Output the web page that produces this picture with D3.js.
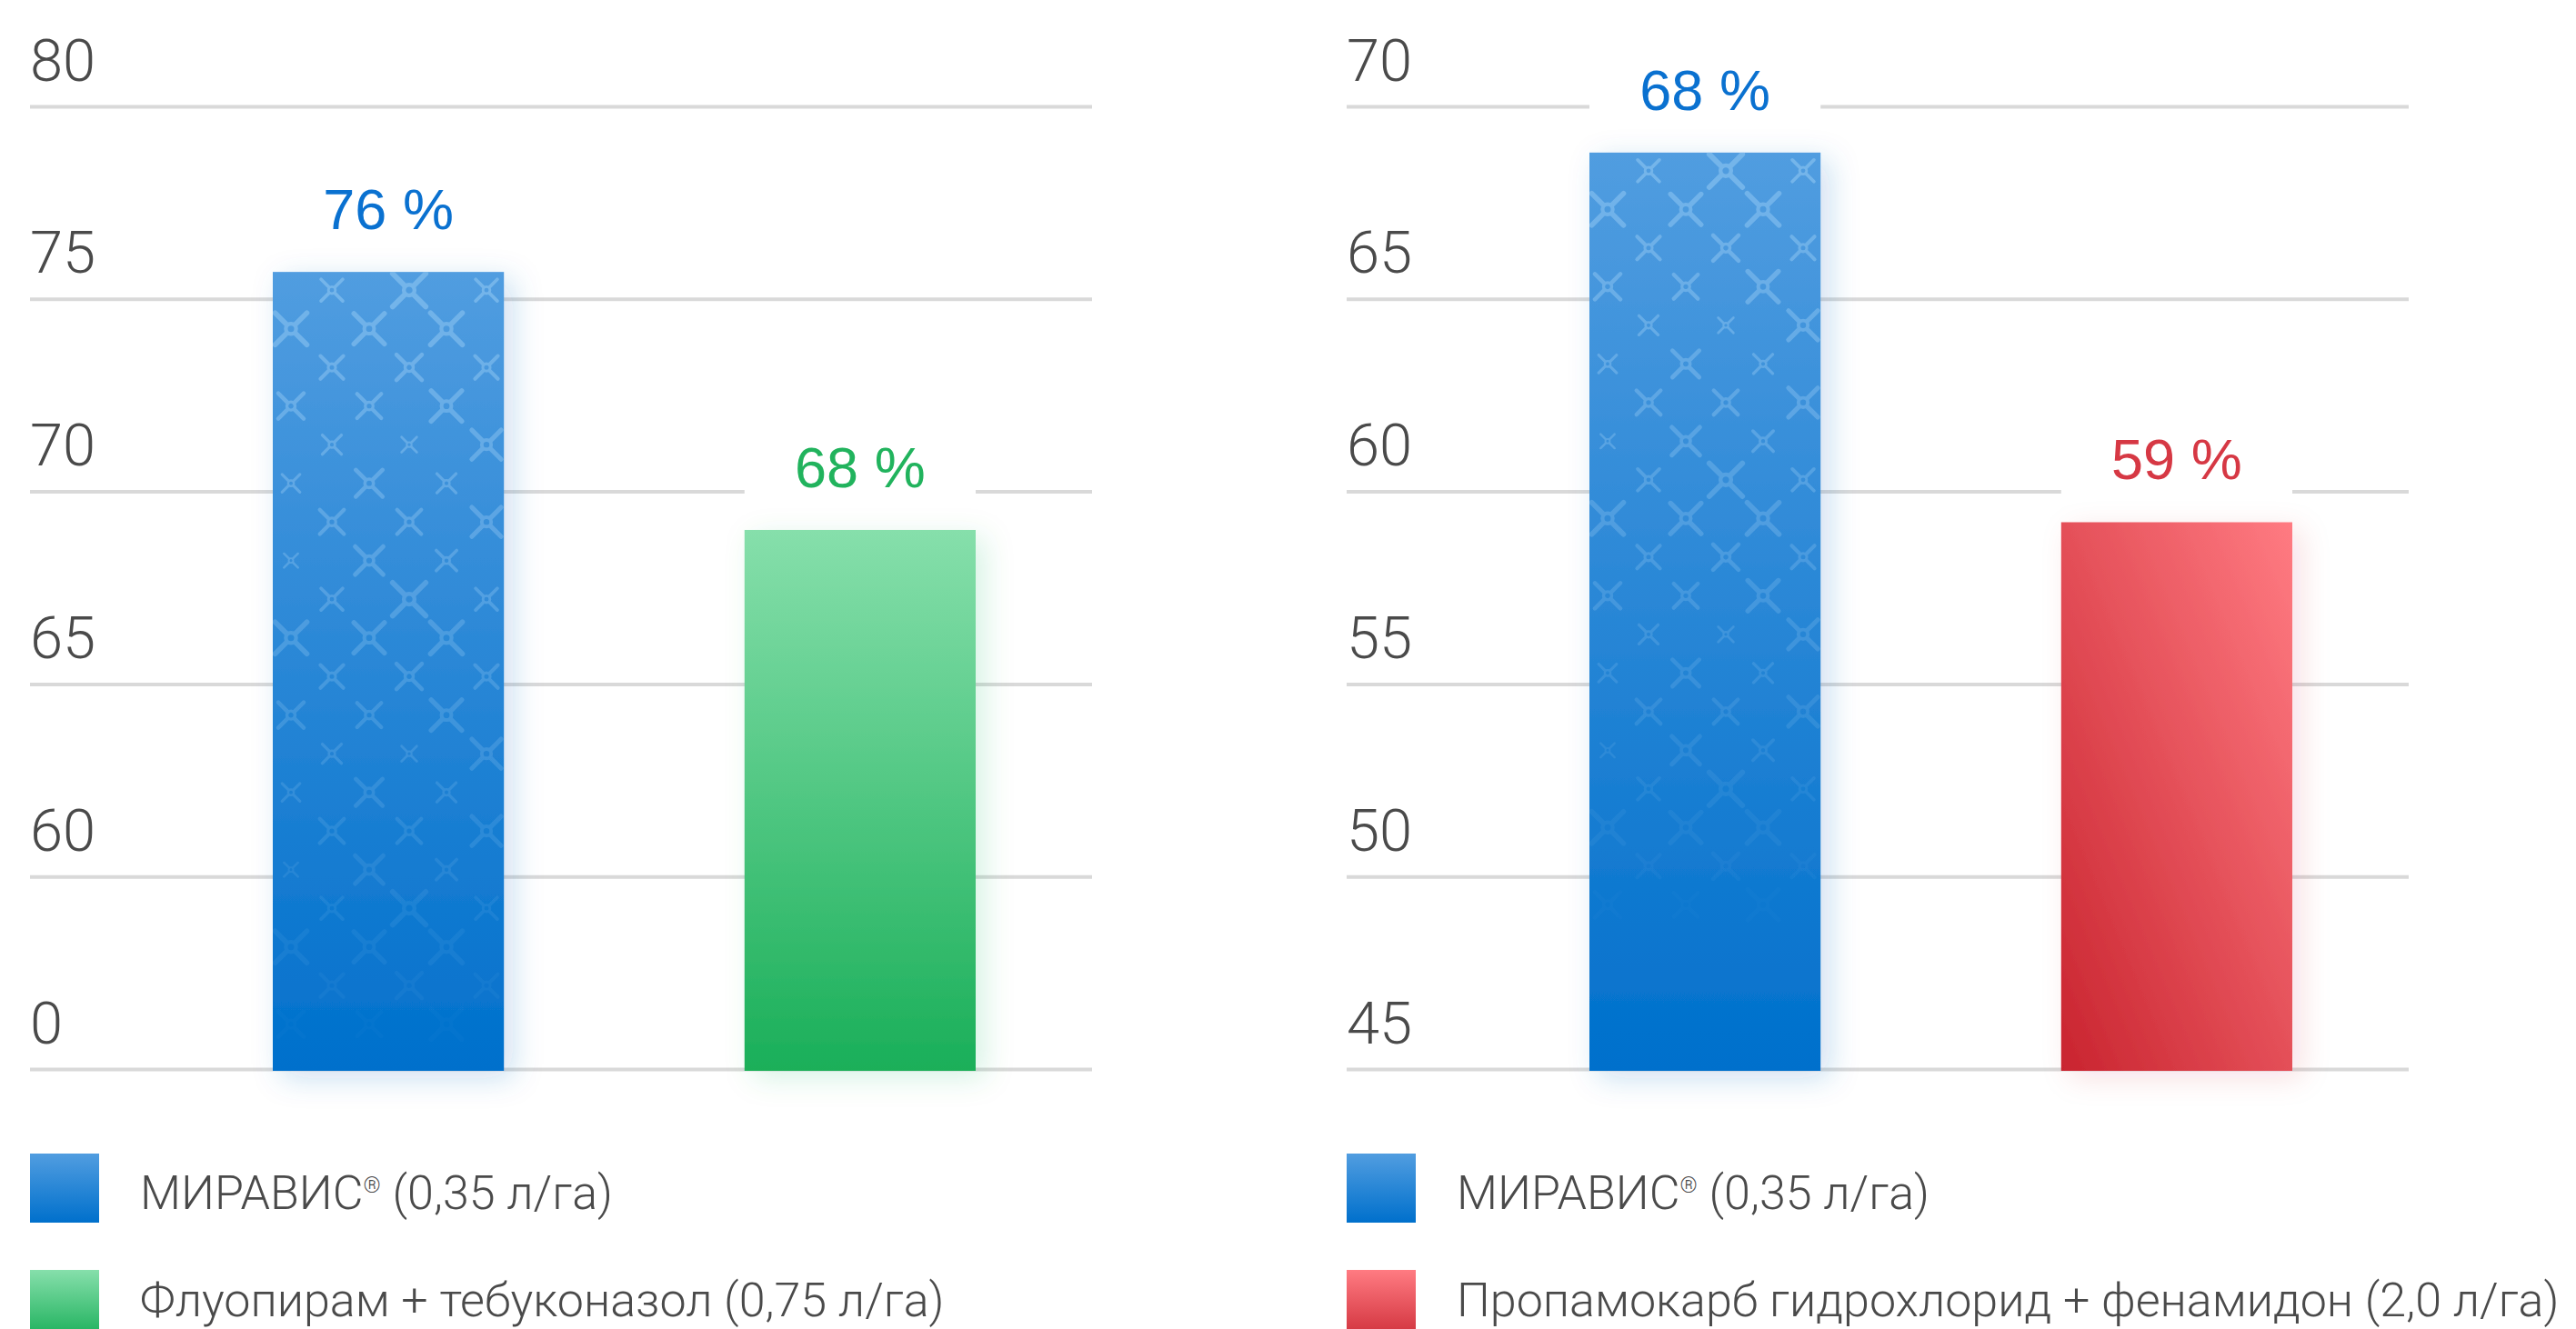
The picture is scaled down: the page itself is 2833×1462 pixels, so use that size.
<!DOCTYPE html>
<html>
<head>
    <meta charset="utf-8">
    <title>МИРАВИС chart</title>
    <script type="text/javascript" src="https://cdn.jsdelivr.net/npm/d3@7/dist/d3.min.js"></script>
    <style>
        body { margin: 0; background: #fff; }
        svg { display: block; }
    </style>
</head>

<body>

<div id="graphDiv"></div>

<script>

var width = 2833,
    height = 1462;

// left chart (axis is broken: bottom line is labelled 0)
var leftCategories = ["МИРАВИС® (0,35 л/га)", "Флуопирам + тебуконазол (0,75 л/га)"],
    leftValues = [75.7, 69.0],      // bar tops as drawn
    leftLabels = [76, 68],          // printed values
    leftTicks = [55, 60, 65, 70, 75, 80],
    leftTickLabels = ["0", "60", "65", "70", "75", "80"];

// right chart
var rightCategories = ["МИРАВИС® (0,35 л/га)", "Пропамокарб гидрохлорид + фенамидон (2,0 л/га)"],
    rightValues = [68.8, 59.2],
    rightLabels = [68, 59],
    rightTicks = [45, 50, 55, 60, 65, 70],
    rightTickLabels = ["45", "50", "55", "60", "65", "70"];

var plotW = 1168,
    plotTop = 117,
    plotBottom = 1176,
    tickFont = "Roboto, 'Liberation Sans', Arial, sans-serif",
    valueFont = "'Liberation Sans', Arial, Helvetica, sans-serif";

// decorative glyph sizes for the pattern on the МИРАВИС bar
var glyphSizes = [0.85, 1.3, 0.85, 1.25, 1.2, 1.25, 0.9, 1.0, 0.9, 1.0, 0.95, 1.2,
                  0.75, 0.6, 1.15, 0.7, 1.05, 0.75, 0.95, 0.95, 1.15, 0.55, 1.1, 0.8];

var svg = d3.select('#graphDiv').append('svg')
    .attr('width', width)
    .attr('height', height);

var defs = svg.append('defs');

function vGrad(id, top, bottom) {
    var g = defs.append('linearGradient').attr('id', id)
        .attr('x1', 0).attr('y1', 0).attr('x2', 0).attr('y2', 1);
    g.append('stop').attr('offset', '0%').attr('stop-color', top);
    g.append('stop').attr('offset', '100%').attr('stop-color', bottom);
}
vGrad('gBlue', '#519de0', '#0070cc');
vGrad('gGreen', '#86dfab', '#1aaf59');
vGrad('gRedV', '#ff7b82', '#cf2f3a');

var rg = defs.append('linearGradient').attr('id', 'gRed')
    .attr('x1', 0).attr('y1', 1).attr('x2', 1).attr('y2', 0);
rg.append('stop').attr('offset', '0%').attr('stop-color', '#c9242f');
rg.append('stop').attr('offset', '100%').attr('stop-color', '#ff7b82');

function shadow(id, color, op) {
    defs.append('filter').attr('id', id)
        .attr('x', '-40%').attr('y', '-20%').attr('width', '180%').attr('height', '140%')
        .append('feDropShadow')
        .attr('dx', 10).attr('dy', 8).attr('stdDeviation', 16)
        .attr('flood-color', color).attr('flood-opacity', op);
}
shadow('sBlue', '#1a6fc0', 0.22);
shadow('sGreen', '#1aaf59', 0.16);
shadow('sRed', '#c9242f', 0.12);

var styles = [
    [{fill: 'url(#gBlue)', sw: 'url(#gBlue)', shadow: 'url(#sBlue)', text: '#0a71d0', pattern: true},
     {fill: 'url(#gGreen)', sw: 'url(#gGreen)', shadow: 'url(#sGreen)', text: '#21b35d'}],
    [{fill: 'url(#gBlue)', sw: 'url(#gBlue)', shadow: 'url(#sBlue)', text: '#0a71d0', pattern: true},
     {fill: 'url(#gRed)', sw: 'url(#gRedV)', shadow: 'url(#sRed)', text: '#d63844'}]
];

function drawGlyph(g, cx, cy, s, op) {
    var dx = 14 * s, dy = 14 * s, a = 4 * s;
    var gl = g.append('g')
        .attr('transform', 'translate(' + cx + ',' + cy + ')')
        .style('opacity', op)
        .attr('stroke', '#8fc6f2')
        .attr('fill', 'none')
        .attr('stroke-linecap', 'round')
        .attr('stroke-width', 4.5 * s);
    gl.append('path')
        .attr('d', 'M' + (-dx) + ',' + (-dy) + 'L' + (-a) + ',' + (-a) +
                   'M' + dx + ',' + (-dy) + 'L' + a + ',' + (-a) +
                   'M' + (-dx) + ',' + dy + 'L' + (-a) + ',' + a +
                   'M' + dx + ',' + dy + 'L' + a + ',' + a);
    gl.append('circle').attr('r', 4.5 * s).attr('stroke-width', 3.4 * s);
}

function drawChart(ox, categories, values, labels, ticks, tickLabels, idx) {
    var chart = svg.append('g').attr('transform', 'translate(' + ox + ',0)');

    var y = d3.scaleLinear()
        .domain([ticks[0], ticks[ticks.length - 1]])
        .range([plotBottom, plotTop]);

    var x = d3.scaleBand()
        .domain(categories)
        .range([267, 1040])
        .paddingInner(0.51)
        .paddingOuter(0);

    // gridlines + tick labels
    var axis = chart.append('g')
        .call(d3.axisRight(y)
            .tickValues(ticks)
            .tickSize(plotW)
            .tickFormat(function(d, i) { return tickLabels[i]; }));
    axis.select('.domain').remove();
    axis.selectAll('.tick line')
        .attr('stroke', '#d9d9d9')
        .attr('stroke-width', 4);
    axis.selectAll('.tick text')
        .attr('x', 0)
        .attr('dy', -29)
        .attr('text-anchor', 'start')
        .style('font-family', tickFont)
        .style('font-weight', 300)
        .style('font-size', '65px')
        .attr('fill', '#4a4a4a');

    // white plates behind value labels
    chart.selectAll('.plate')
        .data(values)
        .enter().append('rect')
        .attr('x', function(d, i) { return x(categories[i]); })
        .attr('width', x.bandwidth())
        .attr('y', function(d) { return y(d) - 100; })
        .attr('height', 100)
        .attr('fill', '#fff');

    // bars
    chart.selectAll('.bar')
        .data(values)
        .enter().append('rect')
        .attr('x', function(d, i) { return x(categories[i]); })
        .attr('width', x.bandwidth())
        .attr('y', function(d) { return y(d); })
        .attr('height', function(d) { return y(ticks[0]) - y(d) + 2; })
        .attr('fill', function(d, i) { return styles[idx][i].fill; })
        .attr('filter', function(d, i) { return styles[idx][i].shadow; });

    // pattern on the МИРАВИС bar
    values.forEach(function(v, i) {
        if (!styles[idx][i].pattern) return;
        var bx = x(categories[i]), by = y(v), bh = y(ticks[0]) - by;
        var cid = 'clip' + idx + '_' + i;
        defs.append('clipPath').attr('id', cid)
            .append('rect')
            .attr('x', bx).attr('y', by)
            .attr('width', x.bandwidth()).attr('height', bh);
        var pg = chart.append('g').attr('clip-path', 'url(#' + cid + ')');
        var r, c, k = 0;
        for (r = 0; 20 + r * 42.5 < bh; r += 1) {
            var offs = (r % 2 === 0) ? [65, 150, 235] : [20, 106, 191];
            var dist = 20 + r * 42.5;
            var op = Math.max(0, 1 - dist / 870) * 0.6;
            for (c = 0; c < 3; c += 1) {
                drawGlyph(pg, bx + offs[c], by + dist, glyphSizes[k % glyphSizes.length], op);
                k += 1;
            }
        }
    });

    // value labels
    chart.selectAll('.val')
        .data(values)
        .enter().append('text')
        .attr('x', function(d, i) { return x(categories[i]) + x.bandwidth() / 2; })
        .attr('y', function(d) { return y(d) - 47; })
        .attr('text-anchor', 'middle')
        .style('font-family', valueFont)
        .style('font-size', '63px')
        .attr('fill', function(d, i) { return styles[idx][i].text; })
        .text(function(d, i) { return labels[i] + ' %'; });

    // legend
    var leg = chart.selectAll('.leg')
        .data(categories)
        .enter().append('g')
        .attr('transform', function(d, i) { return 'translate(0,' + (1269 + i * 128) + ')'; });
    leg.append('rect')
        .attr('width', 76).attr('height', 76)
        .attr('fill', function(d, i) { return styles[idx][i].sw; });
    var lt = leg.append('text')
        .attr('x', 121)
        .attr('y', function(d, i) { return 61 - i * 10; })
        .style('font-family', tickFont)
        .style('font-weight', 300)
        .style('font-size', '52px')
        .attr('fill', '#4a4a4a');
    lt.each(function(d) {
        var t = d3.select(this), parts = d.split('®');
        t.append('tspan').text(parts[0]);
        if (parts.length > 1) {
            t.append('tspan').attr('dy', -18).style('font-size', '24px').text('®');
            t.append('tspan').attr('dy', 18).text(parts[1]);
        }
    });
}

drawChart(33, leftCategories, leftValues, leftLabels, leftTicks, leftTickLabels, 0);
drawChart(1481, rightCategories, rightValues, rightLabels, rightTicks, rightTickLabels, 1);

</script>

</body>
</html>
